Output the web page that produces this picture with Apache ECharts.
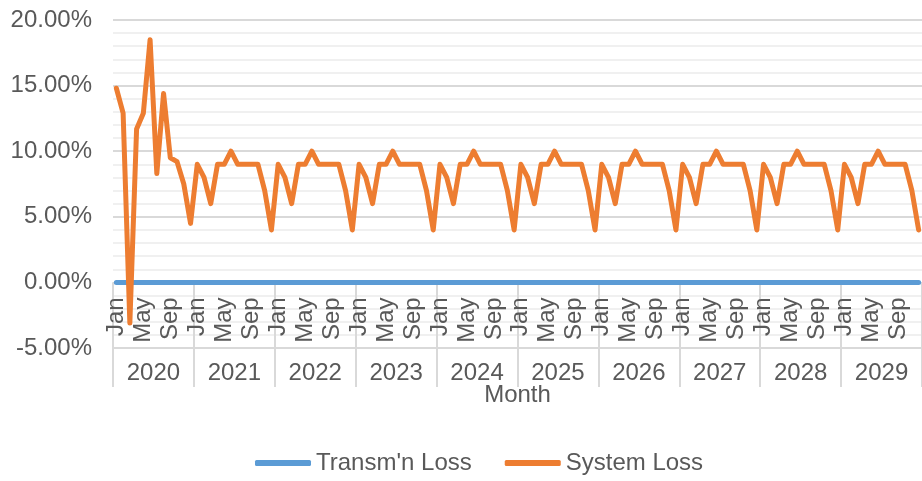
<!DOCTYPE html>
<html>
<head>
<meta charset="utf-8">
<script src="https://cdn.jsdelivr.net/npm/echarts@6/dist/echarts.min.js"></script>
<style>
html,body{margin:0;padding:0;background:#fff;}
#chart{width:922px;height:481px;}
</style>
</head>
<body>
<div id="chart"></div>
<script>
// ---- data ----
var months = ['Jan','Feb','Mar','Apr','May','Jun','Jul','Aug','Sep','Oct','Nov','Dec'];
var years = ['2020','2021','2022','2023','2024','2025','2026','2027','2028','2029'];
var yTicks = [-5, 0, 5, 10, 15, 20];

var system2020 = [14.8, 12.9, -3.1, 11.7, 12.9, 18.5, 8.3, 14.4, 9.5, 9.2, 7.5, 4.5];
var system2021 = [9.0, 8.0, 6.0, 9.0, 9.0, 10.0, 9.0, 9.0, 9.0, 9.0, 7.0, 4.0];
var system2022 = [9.0, 8.0, 6.0, 9.0, 9.0, 10.0, 9.0, 9.0, 9.0, 9.0, 7.0, 4.0];
var system2023 = [9.0, 8.0, 6.0, 9.0, 9.0, 10.0, 9.0, 9.0, 9.0, 9.0, 7.0, 4.0];
var system2024 = [9.0, 8.0, 6.0, 9.0, 9.0, 10.0, 9.0, 9.0, 9.0, 9.0, 7.0, 4.0];
var system2025 = [9.0, 8.0, 6.0, 9.0, 9.0, 10.0, 9.0, 9.0, 9.0, 9.0, 7.0, 4.0];
var system2026 = [9.0, 8.0, 6.0, 9.0, 9.0, 10.0, 9.0, 9.0, 9.0, 9.0, 7.0, 4.0];
var system2027 = [9.0, 8.0, 6.0, 9.0, 9.0, 10.0, 9.0, 9.0, 9.0, 9.0, 7.0, 4.0];
var system2028 = [9.0, 8.0, 6.0, 9.0, 9.0, 10.0, 9.0, 9.0, 9.0, 9.0, 7.0, 4.0];
var system2029 = [9.0, 8.0, 6.0, 9.0, 9.0, 10.0, 9.0, 9.0, 9.0, 9.0, 7.0, 4.0];

var transm2020 = [0,0,0,0,0,0,0,0,0,0,0,0];
var transm2021 = [0,0,0,0,0,0,0,0,0,0,0,0];
var transm2022 = [0,0,0,0,0,0,0,0,0,0,0,0];
var transm2023 = [0,0,0,0,0,0,0,0,0,0,0,0];
var transm2024 = [0,0,0,0,0,0,0,0,0,0,0,0];
var transm2025 = [0,0,0,0,0,0,0,0,0,0,0,0];
var transm2026 = [0,0,0,0,0,0,0,0,0,0,0,0];
var transm2027 = [0,0,0,0,0,0,0,0,0,0,0,0];
var transm2028 = [0,0,0,0,0,0,0,0,0,0,0,0];
var transm2029 = [0,0,0,0,0,0,0,0,0,0,0,0];

// ---- build ----
var systemLoss = [].concat(system2020, system2021, system2022, system2023, system2024,
  system2025, system2026, system2027, system2028, system2029);
var transmLoss = [].concat(transm2020, transm2021, transm2022, transm2023, transm2024,
  transm2025, transm2026, transm2027, transm2028, transm2029);
var categories = [];
years.forEach(function (y) { months.forEach(function (m) { categories.push(m); }); });

var FONT = 'Liberation Sans, Arial, sans-serif';
var TXT = '#595959';
var GRID = '#d9d9d9';
var PLOT_H = 328;
// distance in px from the grid bottom (-5%) up to the 0% line
var zeroOffset = PLOT_H * (0 - yTicks[0]) / (yTicks[yTicks.length - 1] - yTicks[0]);

var chart = echarts.init(document.getElementById('chart'), null, {renderer: 'canvas'});
chart.setOption({
  animation: false,
  backgroundColor: '#ffffff',
  textStyle: {fontFamily: FONT},
  grid: {left: 113, top: 20, width: 810, height: PLOT_H, containLabel: false},
  legend: {
    left: 255, top: 451, padding: 0,
    itemWidth: 56, itemHeight: 6, itemGap: 33,
    icon: 'roundRect',
    textStyle: {fontSize: 24, color: TXT, fontFamily: FONT},
    data: ["Transm'n Loss", 'System Loss']
  },
  xAxis: [{
    type: 'category',
    data: categories,
    position: 'bottom',
    offset: -zeroOffset,
    boundaryGap: true,
    axisLine: {show: true, onZero: false, lineStyle: {color: GRID, width: 1}},
    axisTick: {show: false},
    axisLabel: {
      show: true, rotate: 90, margin: 15,
      interval: function (i) { return i % 4 === 0; },
      fontSize: 24, color: TXT, fontFamily: FONT
    },
    splitLine: {show: false}
  }, {
    type: 'category',
    data: years,
    position: 'bottom',
    boundaryGap: true,
    axisLine: {show: true, onZero: false, lineStyle: {color: GRID, width: 2}},
    axisTick: {show: true, inside: true, length: zeroOffset, interval: 0, lineStyle: {color: GRID, width: 2}},
    axisLabel: {show: true, margin: 13, interval: 0, fontSize: 24, color: TXT, fontFamily: FONT},
    name: 'Month',
    nameLocation: 'middle',
    nameGap: 35,
    nameMoveOverlap: false,
    nameTextStyle: {fontSize: 24, color: TXT, fontFamily: FONT},
    splitLine: {show: false}
  }, {
    type: 'category',
    data: years,
    position: 'bottom',
    boundaryGap: true,
    axisLine: {show: false, onZero: false},
    axisTick: {show: true, inside: false, length: 39, interval: 0, lineStyle: {color: GRID, width: 2}},
    axisLabel: {show: false},
    splitLine: {show: false}
  }],
  yAxis: {
    type: 'value',
    min: yTicks[0], max: yTicks[yTicks.length - 1], interval: 5,
    axisLine: {show: false},
    axisTick: {show: false},
    axisLabel: {
      margin: 21, fontSize: 24, color: TXT, fontFamily: FONT,
      formatter: function (v) { return v.toFixed(2) + '%'; }
    },
    splitLine: {show: true, lineStyle: {color: GRID, width: 2}},
    minorTick: {show: false, splitNumber: 5},
    minorSplitLine: {show: true, lineStyle: {color: '#f0f0f0', width: 2}}
  },
  series: [{
    name: "Transm'n Loss",
    type: 'line',
    xAxisIndex: 0,
    data: transmLoss,
    showSymbol: false, symbol: 'none',
    lineStyle: {color: '#5B9BD5', width: 5, cap: 'round', join: 'round'},
    itemStyle: {color: '#5B9BD5'},
    z: 3
  }, {
    name: 'System Loss',
    type: 'line',
    xAxisIndex: 0,
    data: systemLoss,
    showSymbol: false, symbol: 'none',
    lineStyle: {color: '#ED7D31', width: 5, cap: 'round', join: 'round'},
    itemStyle: {color: '#ED7D31'},
    z: 4
  }]
});
</script>
</body>
</html>
